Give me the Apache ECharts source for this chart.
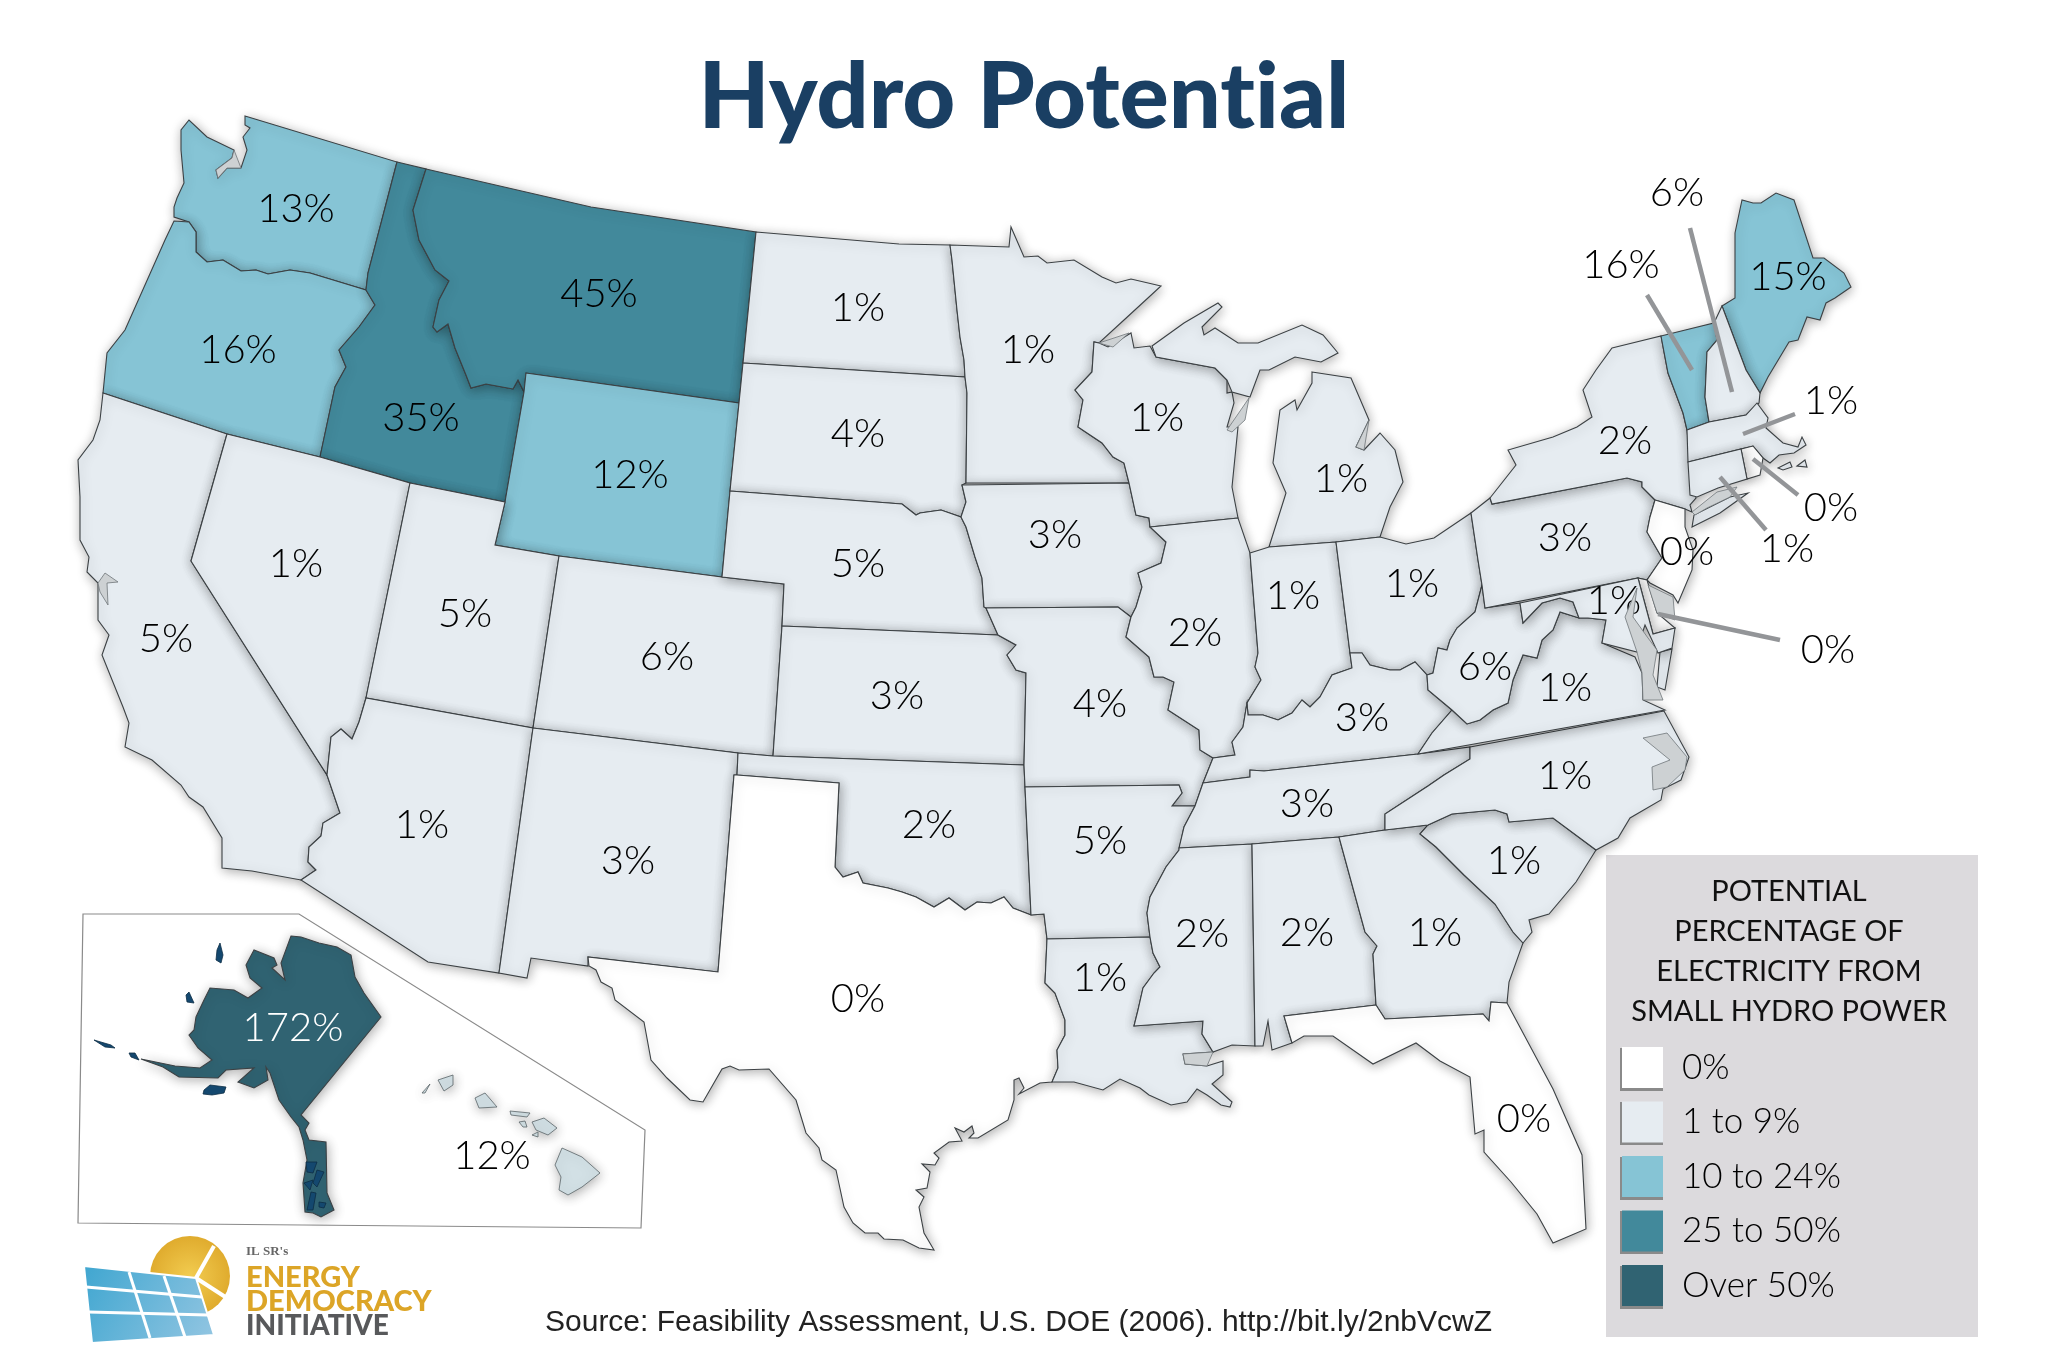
<!DOCTYPE html>
<html><head><meta charset="utf-8">
<style>html,body{margin:0;padding:0;background:#fff}#c{width:2048px;height:1364px}</style>
<script src="https://cdn.jsdelivr.net/npm/echarts@6/dist/echarts.min.js"></script>
</head><body><div id="c"></div>
<script>
// ---------- chart values ----------
const TITLE_TEXT = 'Hydro Potential';
const SOURCE_TEXT = 'Source: Feasibility Assessment, U.S. DOE (2006). http://bit.ly/2nbVcwZ';
const LEGEND_HEADING = 'POTENTIAL\nPERCENTAGE OF\nELECTRICITY FROM\nSMALL HYDRO POWER';
const STATE_NAMES = ['WA','OR','ID','MT','WY','CA','NV','UT','CO','AZ','NM','ND','SD','NE','KS','OK','TX','MN','IA','MO','AR','LA','WI','IL','MI','IN','OH','KY','TN','MS','AL','GA','SC','NC','VA','WV','PA','NY','FL','ME','VT','NH','MA','RI','CT','NJ','DE','MD','AK'];
const STATE_VALUES = [13,16,35,45,12,5,1,5,6,1,3,1,4,5,3,2,0,1,3,4,5,1,1,2,1,1,1,3,3,2,2,1,1,1,1,6,3,2,0,15,16,6,1,0,1,0,0,1,172];
const HAWAII_VALUE = 12;
const LEGEND_LABELS = ['0%','1 to 9%','10 to 24%','25 to 50%','Over 50%'];
const LEGEND_COLORS = ['#ffffff','#e6ecf1','#86c4d5','#42899b','#306372'];
const LEADER_STATES = ['VT','NH','MA','RI','CT','DE'];

// ---------- map outlines (page-pixel x,y pairs, wrapped into GeoJSON below) ----------
const pts = s => s.trim().split(/\s+/).map(q => q.split(',').map(Number));
const rev = a => a.slice().reverse();
const WA_OR = pts('366,290 310,273 290,270 279,272 268,274 256,270 241,271 223,260 207,262 196,252 196,232 189,222');
const OR_ID = pts('366,290 375,305 359,327 339,350 346,367 335,387 320,457');
const ID_MT = pts('426,169 413,210 419,240 435,270 449,281 439,300 433,327 437,332 448,324 455,348 466,375 471,388 486,384 513,389 518,380 524,392');
const AZ_NV = pts('366,698 359,722 352,739 341,729 331,737 327,775');
const CA_AZ = pts('327,775 340,813 323,823 321,836 309,847 308,862 316,870 301,880');
const ND_MN = pts('950,245 952,260 957,310 960,337 964,360 965,377');
const RED_R = pts('1031,915 1013,908 1004,897 991,903 977,902 965,910 949,898 934,907 916,897 902,892 888,888 863,883 858,872 843,877 835,867');
const LA_TX = pts('1047,939 1045,983 1055,993 1065,1020 1065,1035 1057,1050 1058,1068 1052,1082');

const SHAPES = {
 WA:[[...pts('245,116 397,162 368,273'),...WA_OR,...pts('174,217 174,207 177,198 184,183 181,150 181,130 189,120 207,137 234,150 232,158 216,170 218,178 227,168 241,168 247,150 243,137 250,128 245,125')]],
 OR:[[...pts('174,221'),...rev(WA_OR),...OR_ID,...pts('227,434 103,393 107,353 125,330 165,240')]],
 ID:[[...pts('397,162'),...ID_MT,...pts('505,502 410,483'),...rev(OR_ID),...pts('368,273')]],
 MT:[[...pts('426,169 591,207 756,232 743,363 739,403 526,373'),...rev(ID_MT)]],
 WY:[pts('526,373 739,403 730,491 722,577 559,556 495,545 505,502 524,392')],
 CA:[[...pts('103,393 227,434 191,561'),...CA_AZ,...pts('252,871 222,868 222,838 203,807 189,797 181,785 152,760 125,747 129,723 123,707 102,655 109,635 98,620 98,593 98,583 87,572 89,557 80,540 80,497 78,460 93,440 100,420')]],
 NV:[[...pts('227,434 320,457 410,483'),...AZ_NV,...pts('191,561')]],
 UT:[pts('410,483 505,502 495,545 559,556 533,728 366,698')],
 CO:[pts('559,556 722,577 784,584 782,626 773,756 738,753 533,728')],
 AZ:[[...pts('533,728 499,973 428,962'),...rev(CA_AZ),...rev(AZ_NV).slice(1)]],
 NM:[pts('738,753 737,775 734,775 718,972 588,957 588,966 531,958 527,978 499,973 533,728')],
 ND:[[...pts('756,232 899,244'),...ND_MN,...pts('743,363')]],
 SD:[pts('743,363 965,377 967,393 966,483 962,485 966,502 961,517 941,510 920,513 916,515 902,504 730,491 739,403')],
 NE:[pts('730,491 902,504 916,515 920,513 941,510 961,517 966,527 975,557 982,578 984,607 986,608 998,635 782,626 784,584 722,577')],
 KS:[pts('782,626 998,635 1016,645 1007,655 1016,670 1026,673 1024,765 773,756')],
 OK:[[...pts('773,756 1024,765 1025,787'),...RED_R,...pts('839,783 737,775 738,753')]],
 TX:[[...pts('737,775 839,783'),...rev(RED_R),...pts('1044,914'),...LA_TX,...pts('1040,1083 1019,1094 1024,1088 1019,1078 1014,1080 1014,1100 1008,1120 978,1138 969,1138 974,1133 972,1126 964,1132 955,1128 962,1141 949,1142 934,1153 939,1158 935,1165 922,1164 930,1172 927,1188 916,1190 924,1197 919,1207 924,1233 934,1250 919,1248 903,1240 884,1239 878,1233 865,1233 853,1223 844,1207 836,1170 822,1160 819,1148 806,1133 796,1100 769,1069 739,1070 730,1066 722,1069 703,1102 690,1100 667,1078 651,1060 644,1022 615,1000 612,988 601,982 596,970 589,966 588,957 718,972 734,775')]],
 MN:[[...pts('950,245 1009,247 1011,227 1024,257 1038,256 1047,263 1074,260 1102,277 1116,283 1131,279 1161,286 1124,320 1099,343 1094,342 1092,372 1075,390 1083,400 1078,427 1102,443 1113,457 1124,463 1129,483 966,483 967,393'),...rev(ND_MN)]],
 IA:[pts('962,485 1129,483 1136,515 1149,518 1150,527 1166,542 1161,563 1138,573 1142,587 1136,607 1131,617 1118,607 986,608 984,607 982,578 975,557 966,527 961,517 966,502')],
 MO:[pts('986,608 998,635 1016,645 1007,655 1016,670 1026,673 1024,765 1025,787 1179,785 1182,793 1172,806 1195,806 1203,783 1213,758 1200,750 1199,730 1168,710 1174,682 1163,677 1154,677 1149,657 1126,637 1131,617 1118,607')],
 AR:[pts('1025,787 1179,785 1182,793 1172,806 1195,806 1184,827 1179,850 1166,867 1150,897 1147,913 1150,937 1047,939 1044,914 1031,915')],
 LA:[[...pts('1047,939 1150,937 1153,953 1160,967 1154,973 1143,988 1138,1010 1134,1026 1203,1021 1202,1034 1213,1052 1183,1054 1185,1064 1207,1066 1223,1061 1223,1075 1212,1084 1232,1102 1230,1107 1221,1105 1207,1095 1197,1089 1187,1102 1171,1105 1149,1095 1140,1088 1120,1079 1103,1090 1074,1082'),...rev(LA_TX).slice(0,-1)]],
 WI:[pts('1099,343 1108,347 1131,333 1134,348 1150,346 1156,357 1215,368 1227,380 1227,393 1232,392 1234,403 1227,427 1238,427 1232,487 1238,518 1150,527 1149,518 1136,515 1129,483 1124,463 1113,457 1102,443 1078,427 1083,400 1075,390 1092,372 1094,342')],
 IL:[pts('1150,527 1238,518 1250,553 1258,653 1255,667 1261,680 1247,703 1243,727 1232,742 1235,755 1213,758 1200,750 1199,730 1168,710 1174,682 1163,677 1154,677 1149,657 1126,637 1131,617 1136,607 1142,587 1138,573 1161,563 1166,542')],
 MI:[pts('1152,346 1184,323 1218,303 1222,307 1202,327 1204,335 1215,328 1238,343 1258,343 1302,325 1323,335 1338,353 1321,362 1295,357 1269,370 1260,370 1250,397 1232,392 1227,380 1215,368 1156,357'),
     pts('1312,372 1351,378 1369,420 1356,447 1364,450 1380,433 1395,450 1403,482 1390,507 1380,537 1336,542 1269,547 1286,493 1273,463 1280,410 1295,400 1297,410 1312,383')],
 IN:[pts('1250,553 1269,547 1336,542 1350,653 1352,668 1332,675 1320,697 1310,707 1302,700 1292,713 1278,720 1263,715 1248,715 1247,703 1261,680 1255,667 1258,653')],
 OH:[pts('1336,542 1380,537 1406,544 1434,538 1471,513 1478,560 1482,585 1475,612 1457,628 1450,640 1447,650 1438,648 1433,673 1427,675 1415,662 1400,670 1390,670 1370,665 1362,653 1350,653')],
 KY:[pts('1350,653 1362,653 1370,665 1390,670 1400,670 1415,662 1427,675 1428,690 1452,710 1432,733 1418,754 1310,766 1264,771 1250,770 1250,777 1203,783 1213,758 1235,755 1232,742 1243,727 1247,703 1248,715 1263,715 1278,720 1292,713 1302,700 1310,707 1320,697 1332,675 1352,668')],
 TN:[pts('1203,783 1250,777 1250,770 1264,771 1310,766 1418,754 1470,747 1470,759 1444,775 1428,786 1385,814 1385,830 1339,837 1252,844 1179,848 1184,827 1195,806')],
 MS:[pts('1179,848 1252,844 1255,1046 1232,1045 1213,1052 1202,1034 1203,1021 1134,1026 1138,1010 1143,988 1154,973 1160,967 1153,953 1150,937 1147,913 1150,897 1166,867 1179,850')],
 AL:[pts('1252,844 1339,837 1365,932 1377,946 1373,954 1376,1005 1284,1016 1292,1043 1272,1050 1268,1021 1263,1046 1255,1046')],
 GA:[pts('1339,837 1385,830 1428,825 1420,834 1436,847 1464,875 1495,904 1513,932 1523,943 1509,982 1507,1003 1491,1002 1489,1021 1483,1014 1385,1019 1376,1005 1373,954 1377,946 1365,932')],
 SC:[pts('1428,825 1452,814 1495,810 1507,814 1509,822 1553,818 1596,850 1576,882 1549,914 1529,920 1532,932 1523,943 1513,932 1495,904 1464,875 1436,847 1420,834')],
 NC:[pts('1470,747 1664,711 1689,757 1681,780 1663,789 1661,800 1630,818 1618,838 1596,850 1553,818 1509,822 1507,814 1495,810 1452,814 1428,825 1385,830 1385,814 1428,786 1444,775 1470,759')],
 VA:[pts('1452,710 1467,724 1480,720 1493,710 1508,703 1513,680 1523,655 1537,658 1542,640 1553,630 1560,612 1579,618 1588,618 1606,620 1602,643 1635,657 1642,673 1643,700 1665,710 1418,754 1432,733'),
     pts('1660,652 1672,649 1665,690 1657,687')],
 WV:[pts('1427,675 1433,673 1438,648 1447,650 1450,640 1457,628 1475,612 1482,585 1485,608 1520,603 1523,623 1542,603 1560,598 1573,602 1579,618 1560,612 1553,630 1542,640 1537,658 1523,655 1513,680 1508,703 1493,710 1480,720 1467,724 1452,710 1428,690')],
 PA:[pts('1471,513 1490,498 1492,504 1627,478 1642,482 1642,487 1655,500 1650,517 1647,532 1662,558 1647,580 1638,578 1485,608 1482,585 1478,560')],
 NY:[pts('1612,348 1661,336 1668,373 1683,413 1687,430 1690,460 1696,498 1690,505 1692,512 1685,509 1655,500 1642,487 1642,482 1627,478 1492,504 1490,498 1516,465 1508,450 1553,437 1577,427 1592,417 1583,390 1596,370'),
     pts('1692,527 1694,515 1730,497 1748,493 1720,513')],
 FL:[pts('1284,1016 1376,1005 1385,1019 1483,1014 1489,1021 1491,1002 1507,1003 1553,1089 1582,1155 1586,1229 1553,1243 1537,1214 1511,1182 1484,1152 1484,1130 1475,1134 1470,1077 1440,1061 1416,1043 1373,1064 1333,1036 1304,1036 1292,1043')],
 ME:[pts('1722,306 1735,298 1735,233 1742,200 1753,203 1761,203 1776,193 1794,200 1813,258 1824,258 1844,273 1851,287 1835,298 1826,303 1820,320 1807,317 1798,340 1789,342 1768,377 1760,393 1746,370')],
 VT:[pts('1661,336 1714,323 1717,340 1707,352 1705,397 1709,422 1687,430 1683,413 1668,373')],
 NH:[pts('1714,323 1722,306 1746,370 1760,393 1759,403 1746,415 1709,422 1705,397 1707,352 1717,340')],
 MA:[pts('1687,430 1709,422 1746,415 1757,403 1768,418 1766,428 1783,443 1798,447 1802,437 1806,445 1794,453 1779,455 1770,463 1763,458 1753,446 1741,449 1688,462'),
     pts('1778,468 1790,462 1792,467 1783,470'),pts('1797,466 1805,460 1807,467')],
 RI:[pts('1741,449 1753,446 1763,458 1760,475 1747,479')],
 CT:[pts('1688,462 1741,449 1747,479 1718,488 1697,497 1690,495')],
 NJ:[pts('1655,500 1685,509 1685,527 1693,550 1692,570 1678,603 1673,595 1650,583 1647,580 1662,558 1647,532 1650,517')],
 DE:[pts('1638,578 1647,580 1657,613 1675,628 1653,634')],
 MD:[pts('1520,603 1638,578 1653,634 1675,628 1672,648 1658,653 1645,625 1640,640 1637,652 1602,643 1606,620 1588,618 1579,618 1573,602 1560,598 1542,603 1523,623')],
 AK:[pts('291,936 301,937 319,943 337,947 351,955 355,977 364,993 381,1017 301,1115 309,1123 305,1130 309,1140 326,1142 327,1193 334,1210 321,1217 313,1213 305,1212 303,1183 307,1160 303,1140 299,1127 291,1117 279,1100 270,1073 266,1067 268,1080 254,1088 238,1082 254,1068 226,1070 218,1078 179,1077 163,1067 141,1059 175,1066 200,1068 212,1060 198,1048 189,1035 194,1030 196,1017 204,1000 210,988 234,990 248,998 262,988 250,978 246,965 254,950 274,958 277,965 272,968 285,980 281,963')]
};
const LABEL_SPOTS = {WA:[296,209],OR:[238,350],ID:[421,418],MT:[599,294],WY:[630,475],CA:[166,639],NV:[296,564],UT:[465,614],CO:[667,657],AZ:[422,825],NM:[628,861],ND:[858,308],SD:[858,434],NE:[858,564],KS:[897,696],OK:[929,825],TX:[858,999],MN:[1028,350],IA:[1055,535],MO:[1100,704],AR:[1100,841],LA:[1100,978],WI:[1157,418],IL:[1195,633],MI:[1341,479],IN:[1293,596],OH:[1412,584],KY:[1362,718],TN:[1307,804],MS:[1202,934],AL:[1307,933],GA:[1435,933],SC:[1514,861],NC:[1565,776],VA:[1565,688],WV:[1485,667],PA:[1565,538],NY:[1625,441],FL:[1524,1119],ME:[1788,277],VT:[1621,265],NH:[1677,193],MA:[1831,401],RI:[1831,508],CT:[1787,549],NJ:[1687,552],DE:[1828,650],MD:[1614,601],AK:[293,1028]};
const HAWAII_SHAPE = [pts('562,1148 582,1157 600,1173 582,1187 568,1195 559,1190 561,1177 555,1165'),pts('532,1122 544,1118 557,1128 548,1135 536,1130'),pts('510,1111 530,1113 527,1117 511,1115'),pts('519,1122 525,1121 527,1127 523,1127'),pts('532,1135 538,1132 538,1137'),pts('475,1098 485,1093 497,1107 479,1108'),pts('438,1080 453,1075 453,1085 444,1091'),pts('422,1093 430,1084 425,1093')];
const HAWAII_SPOT = [492,1156];
const WATER_SHAPE = [pts('1099,343 1129,333 1113,347'),pts('1227,430 1249,398 1245,420 1232,432'),pts('1356,447 1369,420 1364,450'),
  pts('1637,588 1625,617 1637,652 1642,673 1643,700 1663,700 1653,675 1657,650 1648,638 1633,617'),
  pts('1692,512 1717,492 1737,487 1730,497 1707,508 1695,515'),pts('1648,585 1673,597 1675,620 1657,613'),
  pts('1643,738 1667,733 1687,757 1685,770 1667,787 1653,790 1652,767 1670,760'),
  pts('105,573 118,582 107,583 108,605 100,592 98,583'),pts('1183,1054 1213,1052 1207,1066 1185,1064'),
  pts('234,150 232,158 216,170 218,178 227,168 241,168')];
const AK_ISLANDS = [pts('220,943 223,955 221,963 216,960 217,950'),pts('189,992 194,1003 187,1002 186,995'),pts('204,1090 210,1085 226,1087 224,1093 212,1095 203,1094'),pts('94,1040 111,1045 115,1048 105,1047'),pts('129,1053 135,1053 139,1060 131,1057'),
  pts('306,1162 317,1162 313,1173 307,1172'),pts('317,1170 324,1172 317,1187 313,1183'),pts('304,1183 313,1180 310,1190'),pts('311,1192 316,1193 313,1210 307,1210'),pts('319,1202 326,1203 324,1208 319,1207')];
const LEADERS = [[[1647,295],[1692,370]],[[1690,228],[1732,392]],[[1795,414],[1743,434]],[[1798,495],[1753,459]],[[1766,530],[1720,477]],[[1780,640],[1658,614]]];

// ---------- build maps ----------
const flip = p => [p[0], -p[1]];
const feature = (name, rings, spot) => ({type:'Feature',properties:{name, cp: spot ? flip(spot) : undefined},
  geometry:{type:'MultiPolygon',coordinates:rings.map(r => [r.map(flip)])}});
function registerAndBox(mapName, feats){
  echarts.registerMap(mapName,{type:'FeatureCollection',features:feats});
  let x0=1e9,x1=-1e9,y0=1e9,y1=-1e9;
  feats.forEach(f=>f.geometry.coordinates.forEach(poly=>poly[0].forEach(p=>{x0=Math.min(x0,p[0]);x1=Math.max(x1,p[0]);y0=Math.min(y0,-p[1]);y1=Math.max(y1,-p[1]);})));
  return {left:x0,top:y0,width:x1-x0,height:y1-y0};
}
const usBox = registerAndBox('us', STATE_NAMES.map(n => feature(n, SHAPES[n], LABEL_SPOTS[n])));
const hiBox = registerAndBox('hi', [feature('HI', HAWAII_SHAPE, HAWAII_SPOT)]);
const waterBox = registerAndBox('water', [feature('water', WATER_SHAPE)]);
const islesBox = registerAndBox('isles', [feature('isles', AK_ISLANDS)]);

const LABEL_FONT = {fontFamily:'Lato', fontWeight:300, fontSize:40, color:'#000'};
const SHADOW = {shadowBlur:12, shadowColor:'rgba(0,0,0,0.32)', shadowOffsetX:1, shadowOffsetY:2};
const overlay = (map, box, color, border) => Object.assign({type:'map', map, aspectScale:1, silent:true, z:3, label:{show:false},
  itemStyle:{areaColor:color, borderColor:border, borderWidth:0.8}, emphasis:{disabled:true}, select:{disabled:true}, data:[]}, box);

const option = {
  animation:false,
  backgroundColor:'#ffffff',
  title:[
    {text:TITLE_TEXT,left:'center',top:47,textStyle:{fontFamily:'Lato',fontWeight:900,fontSize:92,color:'#1a3f63'}},
    {text:SOURCE_TEXT,left:540,top:1303,textStyle:{fontFamily:'Liberation Sans',fontWeight:400,fontSize:30,color:'#222'}},
    {text:LEGEND_HEADING,left:1784,top:867,textAlign:'center',textStyle:{fontFamily:'Lato',fontWeight:400,fontSize:29,lineHeight:40,color:'#111'}}
  ],
  visualMap:{
    type:'piecewise',seriesIndex:0,left:1607,top:1032,orient:'vertical',align:'left',inverse:true,
    itemWidth:41,itemHeight:41,itemGap:13.5,textGap:19,selectedMode:false,itemSymbol:'rect',
    textStyle:{fontFamily:'Lato',fontWeight:300,fontSize:35,color:'#000'},
    pieces:[
      {value:0,label:LEGEND_LABELS[0],color:LEGEND_COLORS[0]},
      {min:1,max:9,label:LEGEND_LABELS[1],color:LEGEND_COLORS[1]},
      {min:10,max:24,label:LEGEND_LABELS[2],color:LEGEND_COLORS[2]},
      {min:25,max:50,label:LEGEND_LABELS[3],color:LEGEND_COLORS[3]},
      {min:51,label:LEGEND_LABELS[4],color:LEGEND_COLORS[4]}
    ]
  },
  geo:Object.assign({map:'us',aspectScale:1,silent:true,z:0,label:{show:false},itemStyle:{areaColor:'rgba(0,0,0,0)',borderWidth:0},emphasis:{disabled:true}},usBox),
  graphic:{elements:[
    {type:'rect',z:-5,shape:{x:1606,y:855,width:372,height:482},style:{fill:'#dcdadd'}},
    ...[1049,1103,1158,1212,1267].map(y=>({type:'rect',z:-4,shape:{x:1620,y:y-1,width:43,height:43},style:{fill:'#8a8a8a'}})),
    {type:'polygon',z:-3,shape:{points:[[83,914],[299,914],[645,1130],[641,1228],[78,1223]]},style:{fill:'#fff',stroke:'#8a8a8a',lineWidth:1.2}},
    // logo
    {type:'circle',z:10,shape:{cx:190,cy:1276,r:40},style:{fill:new echarts.graphic.RadialGradient(.5,.5,.6,[{offset:0,color:'#f2cc50'},{offset:1,color:'#dca527'}])}},
    {type:'polyline',z:11,shape:{points:[[196,1278],[214,1246]]},style:{stroke:'#fff',lineWidth:4}},
    {type:'polyline',z:11,shape:{points:[[196,1278],[230,1300]]},style:{stroke:'#fff',lineWidth:4}},
    {type:'polygon',z:12,shape:{points:[[84,1266],[196,1278],[214,1335],[92,1343]]},style:{fill:new echarts.graphic.LinearGradient(0,0,1,1,[{offset:0,color:'#3fa6d0'},{offset:1,color:'#94c6e2'}]),stroke:'#fff',lineWidth:2}},
    ...[[[86,1287],[202,1297]],[[88,1312],[208,1315]],[[129,1272],[150,1338]],[[164,1276],[185,1337]]].map(p=>({type:'polyline',z:13,shape:{points:p},style:{stroke:'#fff',lineWidth:3}})),
    {type:'text',z:13,x:246,y:1245,style:{text:"IL SR's",fontFamily:'Liberation Serif',fontWeight:700,fontSize:13,fill:'#666'}},
    {type:'text',z:13,x:246,y:1263,style:{text:'ENERGY',fontFamily:'Lato',fontWeight:900,fontSize:29,fill:'#dca527'}},
    {type:'text',z:13,x:246,y:1287,style:{text:'DEMOCRACY',fontFamily:'Lato',fontWeight:900,fontSize:29,fill:'#dca527'}},
    {type:'text',z:13,x:246,y:1312,style:{text:'INITIATIVE',fontFamily:'Lato',fontWeight:900,fontSize:28,fill:'#58595b'}}
  ]},
  series:[
    Object.assign({type:'map',map:'us',aspectScale:1,silent:true,z:2,
      itemStyle:Object.assign({borderColor:'#3c4144',borderWidth:1.1},SHADOW),
      emphasis:{disabled:true},select:{disabled:true},
      label:Object.assign({show:true,formatter:p=>p.value+'%'},LABEL_FONT),
      data:STATE_NAMES.map((name,i)=>({name,value:STATE_VALUES[i],
        label:name==='AK'?{color:'#ffffff'}:undefined}))
    },usBox),
    Object.assign({type:'map',map:'hi',aspectScale:1,silent:true,z:2,
      itemStyle:Object.assign({areaColor:'#d2e0e5',borderColor:'#5a6468',borderWidth:0.8},SHADOW),
      emphasis:{disabled:true},select:{disabled:true},
      label:Object.assign({show:true,formatter:p=>p.value+'%'},LABEL_FONT),
      data:[{name:'HI',value:HAWAII_VALUE}]},hiBox),
    overlay('water',waterBox,'#cdd1d3','#70767a'),
    overlay('isles',islesBox,'#14486f','#0c2d45'),
    {type:'lines',coordinateSystem:'geo',z:5,silent:true,polyline:false,
      lineStyle:{color:'#939598',width:4.5,opacity:1,curveness:0},
      data:LEADERS.map((c,i)=>({name:LEADER_STATES[i],coords:c.map(flip)}))}
  ]
};
const chart = echarts.init(document.getElementById('c'),null,{renderer:'canvas',width:2048,height:1364});
// The reference's "ti" is not a ligature: turn ligatures off on the drawing surface.
try { chart.getZr().painter.getLayer(0).ctx.textRendering = 'optimizeSpeed'; } catch (e) {}
chart.setOption(option);
</script></body></html>
